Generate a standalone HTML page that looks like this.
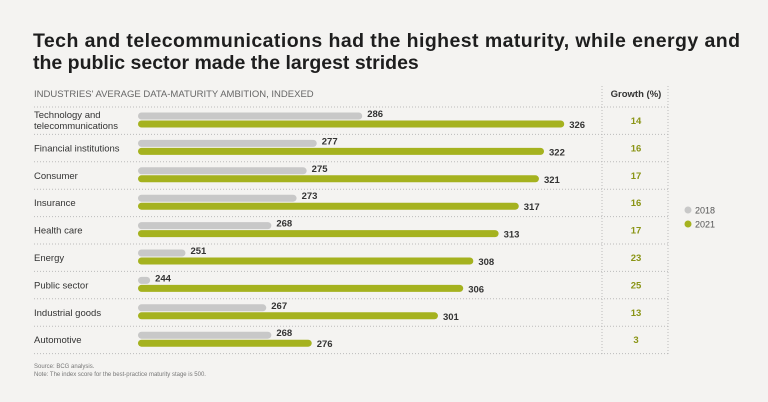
<!DOCTYPE html>
<html><head><meta charset="utf-8"><style>
body{margin:0;background:#f4f3f1;font-family:"Liberation Sans",sans-serif;}
#c{position:relative;width:768px;height:402px;overflow:hidden;}
</style></head><body>
<div id="c">
<svg width="768" height="402" id="svg" font-family="Liberation Sans, sans-serif">
<text x="33" y="47" font-size="19.5" font-weight="bold" fill="#1e1e1e" textLength="707" lengthAdjust="spacing">Tech and telecommunications had the highest maturity, while energy and</text>
<text x="33" y="69" font-size="19.5" font-weight="bold" fill="#1e1e1e">the public sector made the largest strides</text>
<text x="34" y="97" font-size="9.5" fill="#666">INDUSTRIES' AVERAGE DATA-MATURITY AMBITION, INDEXED</text>
<text x="636" y="97" font-size="9.5" font-weight="bold" fill="#333" text-anchor="middle">Growth (%)</text>
<line x1="602" y1="86" x2="602" y2="354" stroke="#bbb" stroke-dasharray="1,2"/>
<line x1="668" y1="86" x2="668" y2="354" stroke="#bbb" stroke-dasharray="1,2"/>
<g id="rows"></g>
<circle cx="688" cy="210" r="3.5" fill="#c8c8c8"/>
<text x="695" y="213.5" font-size="9" fill="#555">2018</text>
<circle cx="688" cy="224" r="3.5" fill="#a5b21f"/>
<text x="695" y="227.5" font-size="9" fill="#555">2021</text>
<text x="34" y="368" font-size="6" fill="#777">Source: BCG analysis.</text>
<text x="34" y="376" font-size="6" fill="#777">Note: The index score for the best-practice maturity stage is 500.</text>
</svg>
</div>
<script>
const categories=[["Technology and","telecommunications"],["Financial institutions"],["Consumer"],["Insurance"],["Health care"],["Energy"],["Public sector"],["Industrial goods"],["Automotive"]];
const values2018=[286,277,275,273,268,251,244,267,268];
const values2021=[326,322,321,317,313,308,306,301,276];
const growth=[14,16,17,16,17,23,25,13,3];
const NS="http://www.w3.org/2000/svg";
const g=document.getElementById('rows');
const x0=138,base=241.6,scale=5.05,top0=107,rowH=27.4;
function xs(v){return x0+(v-base)*scale;}
function mk(t,a){const e=document.createElementNS(NS,t);for(const k in a)e.setAttribute(k,a[k]);g.appendChild(e);return e;}
const sep=mk('line',{x1:34,y1:top0,x2:668,y2:top0,stroke:'#bbb','stroke-dasharray':'1,2'});


categories.forEach((c,i)=>{
 const t=top0+i*rowH;
 const l=mk('line',{x1:34,y1:t+rowH,x2:668,y2:t+rowH,stroke:'#bbb','stroke-dasharray':'1,2'});
 
 
 const lab=mk('text',{x:34,'font-size':9.5,fill:'#333'});
 
 
 if(c.length===2){
  c.forEach((s,j)=>{const ts=document.createElementNS(NS,'tspan');ts.setAttribute('x',34);ts.setAttribute('y',t+11+j*11);ts.textContent=s;lab.appendChild(ts);});
 } else {lab.setAttribute('y',t+17);lab.textContent=c[0];}
 const y1=t+9,y2=t+17;
 const b1=mk('line',{x1:x0+3.5,y1:y1,x2:Math.max(x0+3.5,xs(values2018[i])-3.5),y2:y1,stroke:'#c8c8c8','stroke-width':7,'stroke-linecap':'round'});
 
 
 const b2=mk('line',{x1:x0+3.5,y1:y2,x2:xs(values2021[i])-3.5,y2:y2,stroke:'#a5b21f','stroke-width':7,'stroke-linecap':'round'});
 
 
 const v1=mk('text',{x:xs(values2018[i])+5,y:y1+1,'font-size':9.5,'font-weight':'bold',fill:'#333'});
 v1.textContent=values2018[i];
 
 
 const v2=mk('text',{x:xs(values2021[i])+5,y:y2+4,'font-size':9.5,'font-weight':'bold',fill:'#333'});
 v2.textContent=values2021[i];
 
 
 const gr=mk('text',{x:636,y:t+17,'font-size':9.5,'font-weight':'bold',fill:'#8a9415','text-anchor':'middle'});
 gr.textContent=growth[i];
 
 
});
</script>
</body></html>
